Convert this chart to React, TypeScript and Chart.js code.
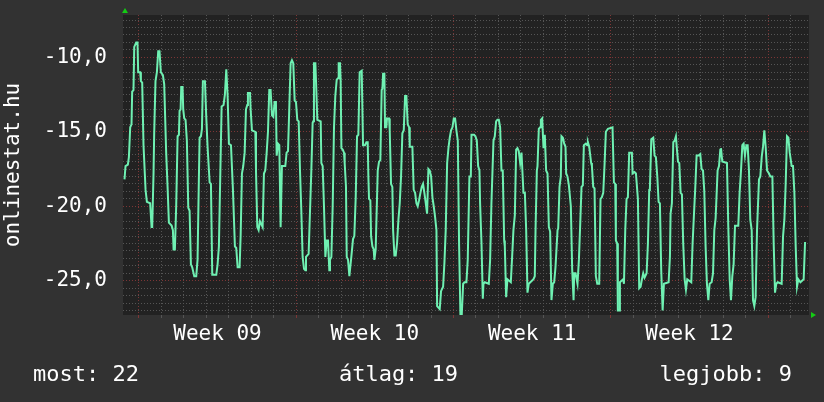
import React, { useEffect, useRef } from 'react';
import { Chart, registerables } from 'chart.js';

Chart.register(...registerables);

// [hours since the start of Week 09, value]
const readings: Array<[number, number]> = [
  [-15.3, -18.2], [-14.2, -17.3], [-11.7, -17.2], [-10.6, -16.7], [-9.2, -14.7], [-7.8, -14.5], [-7.1, -12.3], [-5.7, -12.2],
  [-4.9, -9.3], [-2.8, -9.0], [-1.4, -9.0], [-0.7, -11.0], [1.5, -11.0], [2.2, -11.6], [3.6, -11.7], [5.0, -15.9],
  [7.2, -18.9], [8.6, -19.7], [12.1, -19.8], [13.6, -21.4], [14.3, -21.4], [15.7, -17.8], [16.4, -15.1], [17.8, -11.6],
  [19.3, -11.0], [20.7, -9.6], [22.1, -9.6], [23.5, -11.0], [25.7, -11.2], [27.1, -11.8], [29.2, -16.4], [30.7, -18.7],
  [32.1, -21.1], [35.0, -21.3], [36.4, -21.6], [37.1, -22.9], [38.5, -22.9], [39.9, -20.0], [41.4, -15.3], [42.8, -15.2],
  [43.5, -13.6], [44.6, -13.5], [45.3, -12.0], [46.7, -12.0], [47.4, -13.5], [48.5, -14.1], [49.9, -14.2], [51.3, -15.6],
  [52.8, -20.1], [54.2, -20.3], [55.6, -23.9], [57.0, -24.1], [59.2, -24.7], [61.3, -24.7], [62.7, -23.6], [64.1, -18.2],
  [64.9, -15.4], [66.3, -15.3], [67.4, -14.8], [68.4, -11.6], [70.6, -11.6], [72.0, -14.0], [73.4, -16.0], [75.6, -18.4],
  [77.0, -18.5], [78.4, -24.6], [82.7, -24.6], [84.1, -23.9], [85.5, -22.7], [88.4, -13.3], [90.5, -13.2], [91.9, -12.5],
  [93.4, -10.8], [94.8, -12.6], [96.2, -15.8], [98.4, -15.9], [100.5, -18.9], [102.6, -22.7], [104.0, -22.8], [105.5, -24.1],
  [107.6, -24.1],
  [108.7, -22.0], [110.1, -17.8], [111.5, -17.3], [113.0, -16.4], [114.4, -13.5], [115.8, -13.2], [116.5, -12.4], [118.7, -12.4],
  [119.4, -13.5], [120.8, -14.9], [124.4, -15.0], [125.1, -17.6], [126.5, -21.4], [127.9, -21.6], [129.3, -21.0], [132.2, -21.4],
  [133.6, -17.8], [135.0, -17.6], [136.5, -16.4], [137.9, -15.0], [139.3, -12.2], [140.7, -12.2], [142.2, -13.9], [143.6, -14.0],
  [145.0, -13.0], [146.4, -13.0], [147.2, -16.6], [148.6, -15.8], [150.0, -15.9], [151.4, -21.4], [152.8, -17.3], [156.4, -17.3],
  [157.8, -16.4], [159.3, -16.3], [160.7, -13.3], [162.1, -10.4], [163.5, -10.2], [164.9, -10.4], [166.4, -12.9], [167.8, -13.0],
  [169.2, -14.2], [170.7, -14.3], [172.1, -17.6], [173.5, -20.3], [174.9, -23.4], [176.4, -24.2], [177.8, -24.3], [178.5, -23.4],
  [181.3, -23.2], [182.8, -20.3], [184.2, -17.6], [185.6, -14.4], [186.3, -14.3], [187.0, -10.4], [188.5, -10.4], [189.2, -11.6],
  [190.6, -14.2], [194.2, -14.3], [194.9, -17.1], [196.3, -17.3], [197.7, -20.0], [199.2, -23.4], [200.6, -22.3], [202.0, -22.3],
  [203.4, -24.3], [204.1, -23.6], [205.6, -23.4], [207.0, -20.0], [208.4, -14.7], [209.8, -12.6], [211.3, -11.5], [212.7, -11.4],
  [213.4, -10.4], [214.8, -10.4], [215.5, -11.5], [216.3, -16.1], [217.7, -16.2], [219.1, -16.4], [219.8, -17.1], [221.2, -18.7],
  [222.0, -23.4], [223.4, -23.6], [224.8, -24.7],
  [226.9, -23.4], [228.7, -22.2], [230.1, -22.0], [231.6, -19.4], [233.0, -15.3], [234.4, -15.2], [235.8, -11.0], [238.0, -10.9],
  [239.4, -15.9], [241.5, -15.9], [243.0, -15.7], [244.4, -15.7], [245.1, -18.0], [245.8, -19.5], [247.2, -19.6], [248.0, -22.0],
  [249.4, -22.7], [250.8, -22.9], [251.5, -23.6], [252.9, -22.9], [253.6, -21.2], [255.1, -17.6], [256.5, -17.0], [257.9, -16.9],
  [259.3, -12.2], [260.1, -12.1], [260.8, -11.1], [262.2, -11.1], [262.9, -14.7], [264.3, -14.7], [265.0, -14.1], [267.2, -14.1],
  [267.9, -14.9], [269.3, -18.5], [270.7, -18.7], [271.5, -21.6], [272.9, -23.3], [274.3, -23.3], [275.7, -22.5], [277.2, -20.9],
  [278.6, -19.8], [280.0, -18.0], [281.4, -15.1], [282.9, -14.9], [284.3, -12.6], [285.7, -12.6], [287.1, -14.5], [288.6, -14.7],
  [289.3, -16.0], [292.1, -16.0], [293.5, -18.9], [295.0, -19.1], [296.4, -19.8], [297.8, -20.0], [299.2, -19.6], [300.7, -19.1],
  [302.1, -18.7], [303.5, -18.5], [304.9, -19.1], [306.4, -19.8], [307.8, -20.5], [309.2, -17.5], [310.6, -17.6], [312.1, -18.0],
  [313.5, -19.4], [314.9, -20.0], [316.3, -20.7], [317.8, -21.6], [318.5, -26.7], [321.3, -26.9], [322.7, -25.7], [324.9, -25.4],
  [326.3, -23.8], [327.7, -21.6], [329.2, -17.1], [330.6, -16.1], [332.0, -15.4], [333.4, -14.9], [334.9, -14.7], [336.3, -14.1],
  [337.7, -14.1], [339.1, -14.9], [340.6, -15.6], [342.0, -22.7], [343.4, -27.3], [344.8, -27.3], [346.3, -25.2], [347.7, -25.1],
  [349.8, -25.1], [351.2, -23.6],
  [353.0, -18.0], [354.5, -18.0], [355.2, -15.2], [358.0, -15.2], [359.4, -15.3], [360.9, -15.6], [362.3, -17.3], [363.7, -17.6],
  [364.4, -19.8], [365.9, -22.5], [367.3, -26.2], [368.0, -25.2], [369.4, -25.1], [373.7, -25.2], [375.1, -23.6], [376.5, -19.8],
  [378.7, -15.6], [380.1, -15.3], [381.5, -14.3], [382.9, -14.2], [384.4, -14.2], [385.8, -14.7], [387.2, -17.6], [388.6, -17.6],
  [390.1, -22.3], [390.8, -22.7], [392.2, -26.1], [393.6, -24.9], [397.2, -25.1], [398.6, -23.4], [400.0, -21.6], [401.5, -20.6],
  [402.9, -16.2], [404.3, -16.1], [405.7, -16.3], [407.2, -17.1], [408.6, -16.4], [409.3, -17.3], [410.7, -19.1], [412.2, -19.1],
  [413.6, -21.6], [415.0, -25.8], [416.4, -25.2], [421.4, -24.9], [422.8, -24.7], [423.6, -21.6], [425.0, -17.6], [425.7, -17.3],
  [427.1, -14.8], [428.5, -14.7], [429.3, -14.2], [430.7, -14.1], [432.1, -16.1], [433.5, -15.2], [434.9, -17.6], [436.4, -17.8],
  [437.8, -21.4], [439.2, -21.7], [440.6, -26.3], [442.1, -25.2], [443.5, -25.1], [444.9, -24.1], [447.1, -21.6], [447.8, -21.5],
  [449.2, -18.7], [450.6, -18.0], [451.3, -15.3], [452.8, -15.4], [454.2, -15.8], [455.6, -16.0], [456.3, -17.8], [457.7, -18.0],
  [459.2, -18.6], [461.3, -20.0], [462.7, -24.2], [464.2, -26.3], [464.9, -24.5], [466.3, -24.5], [468.4, -25.2], [469.9, -23.6],
  [471.3, -21.2], [472.7, -18.7], [474.1, -18.6],
  [475.2, -15.9], [477.3, -15.8], [478.8, -15.9], [479.5, -15.7], [480.9, -16.0], [483.0, -17.1], [483.8, -17.3], [485.2, -18.7],
  [486.6, -18.8], [488.0, -24.7], [489.5, -25.2], [491.6, -25.2], [493.0, -19.5], [494.4, -19.4], [495.9, -19.1], [497.3, -17.2],
  [498.7, -15.0], [500.9, -14.8], [505.8, -14.7], [507.3, -18.4], [508.7, -18.5], [509.4, -22.3], [510.8, -22.5], [511.5, -27.0],
  [513.0, -27.0], [513.7, -25.1], [517.2, -24.9], [518.0, -25.2], [519.4, -21.6], [520.8, -19.5], [522.2, -19.4], [523.6, -16.4],
  [526.5, -16.4], [527.2, -17.8], [529.3, -17.7], [530.8, -17.8], [532.9, -19.5], [534.3, -25.5], [535.8, -25.4], [537.2, -24.9],
  [538.6, -24.5], [540.0, -24.8], [542.2, -24.5], [543.6, -22.5], [545.0, -18.9], [545.7, -18.8], [547.2, -15.5], [549.3, -15.4],
  [550.7, -16.6], [552.1, -16.7], [553.6, -18.0], [555.0, -19.7], [556.4, -19.8], [557.8, -24.3], [559.3, -27.0], [560.7, -25.2],
  [565.7, -25.1], [567.1, -23.4], [567.8, -20.5], [569.2, -19.8], [570.7, -15.7], [572.1, -15.6], [573.5, -15.3], [574.2, -15.9],
  [575.7, -17.0], [577.1, -17.1], [578.5, -19.1], [579.9, -19.2], [581.3, -22.5], [582.8, -24.9], [584.2, -25.6], [585.6, -24.9],
  [589.9, -25.1], [591.3, -22.5], [592.8, -20.5], [594.2, -18.7], [595.6, -16.6], [597.7, -16.6],
  [599.5, -16.5], [600.9, -17.5], [602.4, -17.6], [603.8, -19.0], [605.2, -22.7], [606.6, -25.2], [608.1, -26.3], [609.5, -25.2],
  [611.6, -25.1], [613.1, -24.5], [614.5, -21.6], [615.9, -20.8], [618.0, -17.6], [619.5, -17.3], [620.9, -16.2], [621.6, -16.1],
  [623.0, -17.0], [628.0, -17.1], [629.4, -21.3], [630.9, -24.9], [632.3, -26.3], [633.7, -24.7], [635.1, -23.9], [636.6, -21.3],
  [640.1, -21.3], [641.5, -19.1], [643.0, -17.6], [644.4, -15.9], [645.8, -15.8], [647.2, -16.6], [648.7, -15.9], [650.1, -15.9],
  [651.5, -17.6], [652.9, -20.9], [654.4, -21.6], [655.8, -26.3], [657.2, -26.7], [658.6, -26.1], [660.1, -21.6], [662.2, -18.2],
  [663.6, -18.0], [665.1, -16.7], [666.5, -16.0], [667.9, -14.9], [669.3, -16.0], [670.8, -17.6], [672.9, -17.8], [674.3, -18.0],
  [676.5, -18.0], [677.9, -22.5], [679.3, -25.8], [680.7, -25.2], [682.2, -25.1], [686.4, -25.2], [687.9, -22.0], [689.3, -20.9],
  [690.7, -18.5], [692.1, -15.3], [693.6, -15.4], [695.0, -16.4], [697.1, -17.3], [698.5, -17.3], [700.0, -19.1], [701.4, -22.7],
  [702.8, -25.4], [704.2, -24.9], [706.4, -25.1], [709.9, -24.9], [711.4, -22.4],
];

const weekLabels = ['Week 09', 'Week 10', 'Week 11', 'Week 12'];
const weekHours = 168;
const dayHours = 24;
const yLabelStep = 5;
const yMinorStep = 0.5;
const statNames = ['most', 'átlag', 'legjobb'];
const statValues = [22, 19, 9];
const yTitle = 'onlinestat.hu';

const X_MIN = -16.9;
const X_MAX = 715.6;
const Y_MIN = -27.3;
const Y_MAX = -7.16;

const FONT = '"DejaVu Sans Mono", "Liberation Mono", monospace';
const BG = '#323232';
const PLOT_BG = '#222222';
const MINOR = '#555555';
const MAJOR = '#7c3636';
const LINE = '#6ff0b2';
const ARROW = '#14cc14';
const TEXT = '#ffffff';

const near = (a: number, b: number) => Math.abs(a - b) < 1e-6;
const isWeekLabelTick = (v: number) => near(((v - weekHours / 2) % weekHours + weekHours) % weekHours, 0);
const isWeekStart = (v: number) => near(((v % weekHours) + weekHours) % weekHours, 0);

export default function App() {
  const ref = useRef<HTMLCanvasElement>(null);

  useEffect(() => {
    document.body.style.margin = '0';
    document.body.style.background = BG;
    const canvas = ref.current;
    if (!canvas) return;

    const decorPlugin = {
      id: 'rrdDecor',
      beforeDraw(chart: any) {
        const { ctx, chartArea } = chart;
        ctx.save();
        ctx.fillStyle = BG;
        ctx.fillRect(0, 0, chart.width, chart.height);
        ctx.fillStyle = PLOT_BG;
        ctx.fillRect(chartArea.left, chartArea.top, chartArea.right - chartArea.left, chartArea.bottom - chartArea.top);
        ctx.restore();
      },
      afterDraw(chart: any) {
        const { ctx, chartArea } = chart;
        ctx.save();
        ctx.fillStyle = ARROW;
        // y-axis arrow
        const ax = chartArea.left + 2;
        ctx.beginPath();
        ctx.moveTo(ax - 3, chartArea.top - 2);
        ctx.lineTo(ax + 3, chartArea.top - 2);
        ctx.lineTo(ax, chartArea.top - 7);
        ctx.closePath();
        ctx.fill();
        // x-axis arrow
        const ay = chartArea.bottom;
        ctx.beginPath();
        ctx.moveTo(chartArea.right + 2, ay - 3);
        ctx.lineTo(chartArea.right + 2, ay + 3);
        ctx.lineTo(chartArea.right + 7, ay);
        ctx.closePath();
        ctx.fill();
        // stats line
        ctx.fillStyle = TEXT;
        ctx.font = `22px ${FONT}`;
        ctx.textBaseline = 'alphabetic';
        const y = 381;
        const texts = statNames.map((n, i) => `${n}: ${statValues[i]}`);
        ctx.textAlign = 'left';
        ctx.fillText(texts[0], 33, y);
        ctx.textAlign = 'center';
        ctx.fillText(texts[1], 398.5, y);
        ctx.textAlign = 'right';
        ctx.fillText(texts[2], 792, y);
        ctx.restore();
      },
    };

    const xGridColor = (c: any) => {
      const v = c.tick ? c.tick.value : NaN;
      if (isNaN(v)) return MINOR;
      if (isWeekLabelTick(v)) return 'rgba(0,0,0,0)';
      if (isWeekStart(v)) return MAJOR;
      return MINOR;
    };
    const yGridColor = (c: any) => {
      const v = c.tick ? c.tick.value : NaN;
      if (!isNaN(v) && near(v % yLabelStep, 0)) return MAJOR;
      return MINOR;
    };

    const chart = new Chart(canvas, {
      type: 'line',
      data: {
        datasets: [
          {
            data: readings.map(([x, y]) => ({ x, y })),
            borderColor: LINE,
            borderWidth: 2,
            pointRadius: 0,
            tension: 0,
            fill: false,
          },
        ],
      },
      options: {
        animation: false,
        responsive: false,
        devicePixelRatio: 1,
        layout: { padding: { left: 0, right: 15, top: 15, bottom: 0 } },
        plugins: { legend: { display: false }, tooltip: { enabled: false } },
        scales: {
          x: {
            type: 'linear',
            min: X_MIN,
            max: X_MAX,
            bounds: 'data',
            afterBuildTicks: (s: any) => {
              const t: any[] = [];
              for (let h = 0; h <= X_MAX; h += dayHours) t.push({ value: h });
              weekLabels.forEach((_, i) => t.push({ value: weekHours / 2 + weekHours * i }));
              t.sort((a, b) => a.value - b.value);
              s.ticks = t;
            },
            afterFit: (s: any) => {
              s.height = 87;
              s.paddingLeft = 0;
              s.paddingRight = 0;
            },
            ticks: {
              autoSkip: false,
              maxRotation: 0,
              minRotation: 0,
              padding: 4,
              color: TEXT,
              font: { family: FONT, size: 21 },
              callback: (v: any) => {
                const n = Number(v);
                if (!isWeekLabelTick(n)) return '';
                return weekLabels[Math.round((n - weekHours / 2) / weekHours)] ?? '';
              },
            },
            grid: {
              color: xGridColor,
              tickColor: xGridColor,
              tickLength: 3,
              lineWidth: 1,
              drawTicks: true,
            },
            border: { display: false, dash: [1, 2] },
          },
          y: {
            type: 'linear',
            min: Y_MIN,
            max: Y_MAX,
            bounds: 'data',
            afterBuildTicks: (s: any) => {
              const t: any[] = [];
              for (let k = Math.ceil(Y_MIN / yMinorStep); k * yMinorStep <= Y_MAX; k++) t.push({ value: k * yMinorStep });
              s.ticks = t;
            },
            afterFit: (s: any) => {
              s.width = 123;
              s.paddingTop = 0;
              s.paddingBottom = 0;
            },
            ticks: {
              autoSkip: false,
              padding: 16,
              color: TEXT,
              font: { family: FONT, size: 21 },
              callback: (v: any) => {
                const n = Number(v);
                return near(n % yLabelStep, 0) ? n.toFixed(1).replace('.', ',') : '';
              },
            },
            grid: {
              color: yGridColor,
              lineWidth: 1,
              drawTicks: false,
            },
            border: { display: false, dash: [1, 2] },
            title: {
              display: true,
              text: yTitle,
              color: TEXT,
              font: { family: FONT, size: 21 },
              padding: { top: 1, bottom: 0 },
            },
          },
        },
      },
      plugins: [decorPlugin],
    } as any);

    return () => chart.destroy();
  }, []);

  return (
    <div style={{ width: 824, height: 402, background: BG }}>
      <canvas ref={ref} width={824} height={402} style={{ display: 'block', width: 824, height: 402 }} />
    </div>
  );
}
